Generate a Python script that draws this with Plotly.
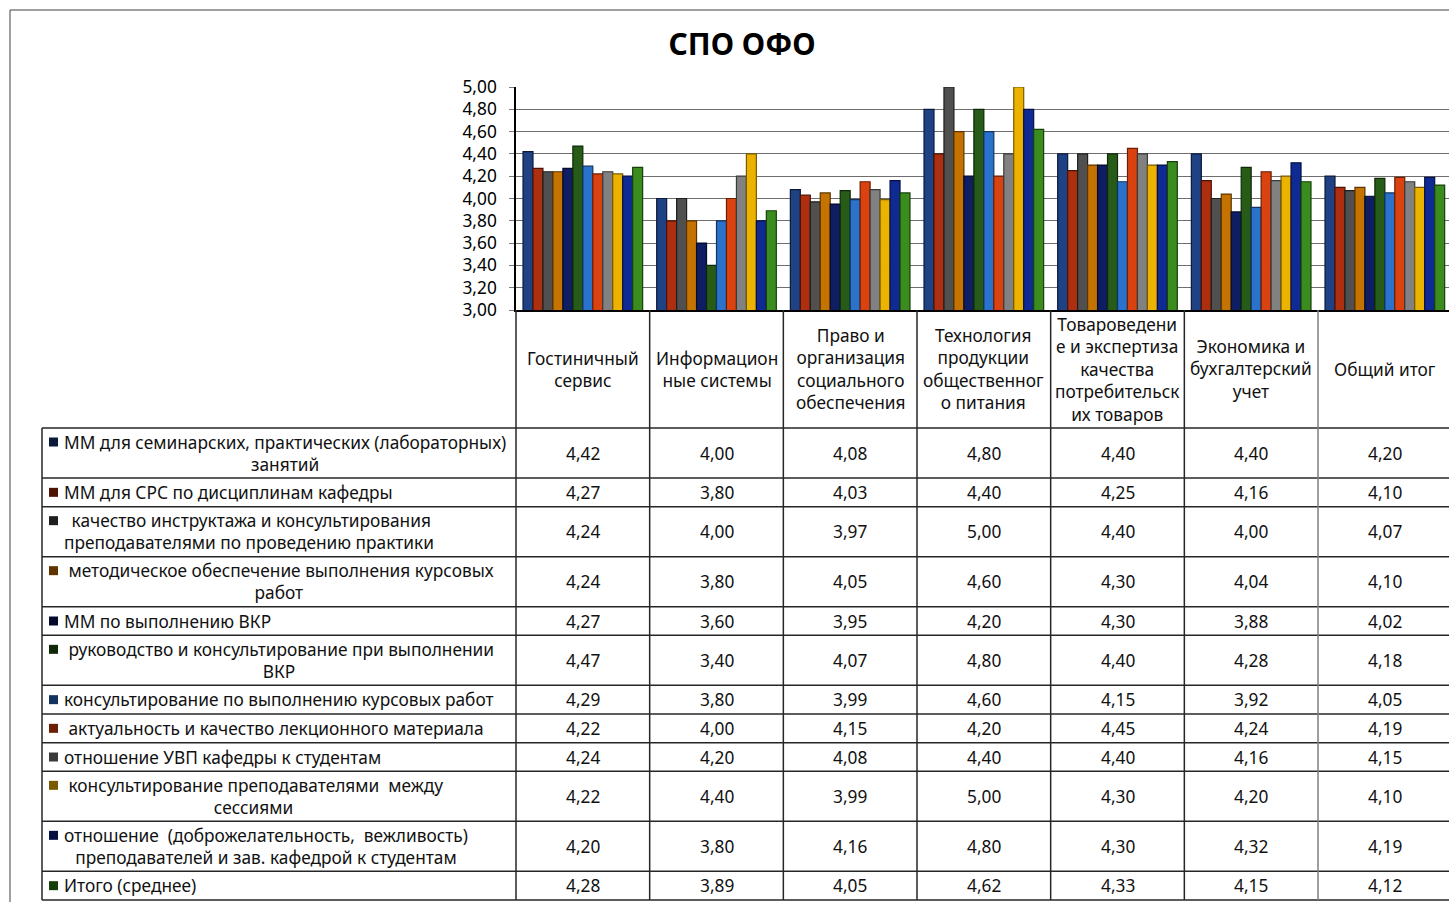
import plotly.graph_objects as go

W, H = 1449, 902

categories = ["Гостиничный<br>сервис", "Информацион<br>ные системы",
              "Право и<br>организация<br>социального<br>обеспечения",
              "Технология<br>продукции<br>общественног<br>о питания",
              "Товароведени<br>е и экспертиза<br>качества<br>потребительск<br>их товаров",
              "Экономика и<br>бухгалтерский<br>учет", "Общий итог"]

series_names = [
    "ММ для семинарских, практических (лабораторных)<br>занятий",
    "ММ для СРС по дисциплинам кафедры",
    " качество инструктажа и консультирования<br>преподавателями по проведению практики",
    " методическое обеспечение выполнения курсовых<br>работ",
    "ММ по выполнению ВКР",
    " руководство и консультирование при выполнении<br>ВКР",
    "консультирование по выполнению курсовых работ",
    " актуальность и качество лекционного материала",
    "отношение УВП кафедры к студентам",
    " консультирование преподавателями  между<br>сессиями",
    "отношение  (доброжелательность,  вежливость)<br>преподавателей и зав. кафедрой к студентам",
    "Итого (среднее)",
]

s1 = [4.42, 4.00, 4.08, 4.80, 4.40, 4.40, 4.20]
s2 = [4.27, 3.80, 4.03, 4.40, 4.25, 4.16, 4.10]
s3 = [4.24, 4.00, 3.97, 5.00, 4.40, 4.00, 4.07]
s4 = [4.24, 3.80, 4.05, 4.60, 4.30, 4.04, 4.10]
s5 = [4.27, 3.60, 3.95, 4.20, 4.30, 3.88, 4.02]
s6 = [4.47, 3.40, 4.07, 4.80, 4.40, 4.28, 4.18]
s7 = [4.29, 3.80, 3.99, 4.60, 4.15, 3.92, 4.05]
s8 = [4.22, 4.00, 4.15, 4.20, 4.45, 4.24, 4.19]
s9 = [4.24, 4.20, 4.08, 4.40, 4.40, 4.16, 4.15]
s10 = [4.22, 4.40, 3.99, 5.00, 4.30, 4.20, 4.10]
s11 = [4.20, 3.80, 4.16, 4.80, 4.30, 4.32, 4.19]
s12 = [4.28, 3.89, 4.05, 4.62, 4.33, 4.15, 4.12]
values = [s1, s2, s3, s4, s5, s6, s7, s8, s9, s10, s11, s12]

colors = ["#1E4284", "#AC2F10", "#505050", "#C47200", "#0F1E62", "#275C18",
          "#2A72CC", "#DA420F", "#818181", "#ECB200", "#102A94", "#3A8C1F"]
edge_colors = ["#0B1A3A", "#4E1205", "#1E1E1E", "#5E3500", "#050A2A", "#0E2808",
               "#123260", "#6A1E05", "#3A3A3A", "#7A5A00", "#060F44", "#16400A"]

FONT = "Noto Sans"
FS = 17.3
TXT = "#111111"

def py(p):
    return 1 - p / H

def px(p):
    return p / W

x_left = 516
fig = go.Figure()
xs = list(range(len(categories)))
for name, vals, c, ec in zip(series_names, values, colors, edge_colors):
    fig.add_trace(go.Bar(x=xs, y=vals, name=name.replace("<br>", " "),
                         marker=dict(color=c, line=dict(color=ec, width=1.2)),
                         showlegend=False))

shapes = []
annotations = []

# frame
shapes.append(dict(type="rect", xref="paper", yref="paper", x0=px(10), x1=1.01,
                   y0=-0.01, y1=py(10), line=dict(color="#404040", width=1)))

# table geometry
row_lines = [1 if "<br>" not in n else 2 for n in series_names]
h1 = (900 - 428 - 50 * sum(1 for r in row_lines if r == 2)) / sum(1 for r in row_lines if r == 1)
bounds = [428]
for r in row_lines:
    bounds.append(bounds[-1] + (50 if r == 2 else h1))

line_style = dict(color="#262626", width=1.5)
for b in bounds:
    shapes.append(dict(type="line", xref="paper", yref="paper", x0=px(42), x1=1,
                       y0=py(b), y1=py(b), line=line_style))
shapes.append(dict(type="line", xref="paper", yref="paper", x0=px(42), x1=px(42),
                   y0=py(428), y1=py(900), line=line_style))
shapes.append(dict(type="line", xref="paper", yref="paper", x0=px(x_left), x1=px(x_left),
                   y0=py(310), y1=py(900), line=line_style))
for i in range(1, len(categories)):
    shapes.append(dict(type="line", xref="x", yref="paper", x0=i - 0.5, x1=i - 0.5,
                       y0=py(310), y1=py(900),
                       line=dict(color="#262626" if i < 6 else "#7f7f7f", width=1.5)))

# header category labels
for i, c in enumerate(categories):
    annotations.append(dict(x=i, y=py(369), xref="x", yref="paper", text=c,
                            showarrow=False, align="center", xanchor="center",
                            yanchor="middle",
                            font=dict(family=FONT, size=FS, color=TXT)))

# rows
for k, (name, vals) in enumerate(zip(series_names, values)):
    top, bot = bounds[k], bounds[k + 1]
    cy = (top + bot) / 2
    key_y = cy - 11 if row_lines[k] == 2 else cy
    shapes.append(dict(type="rect", xref="paper", yref="paper",
                       x0=px(49), x1=px(58), y0=py(key_y + 4.5), y1=py(key_y - 4.5),
                       fillcolor=edge_colors[k], line=dict(width=0)))
    annotations.append(dict(x=px(62), y=py(cy), xref="paper", yref="paper",
                            text=name.replace(" ", "\u00a0"),
                            showarrow=False, align="center", xanchor="left",
                            yanchor="middle",
                            font=dict(family=FONT, size=FS, color=TXT)))
    for i, v in enumerate(vals):
        annotations.append(dict(x=i, y=py(cy), xref="x", yref="paper",
                                text=f"{v:.2f}".replace(".", ","), showarrow=False,
                                xanchor="center", yanchor="middle",
                                font=dict(family=FONT, size=FS, color=TXT)))

fig.update_layout(
    width=W, height=H, autosize=False,
    margin=dict(l=0, r=0, t=0, b=0, pad=0, autoexpand=False),
    paper_bgcolor="white", plot_bgcolor="white",
    separators=", ",
    barmode="group", bargap=0.105, bargroupgap=0,
    title=dict(text="<b>СПО ОФО</b>", x=px(742), xanchor="center", y=py(44),
               yanchor="middle", font=dict(family=FONT, size=30, color="black")),
    xaxis=dict(domain=[px(x_left), 1.0], range=[-0.5, 6.48], showticklabels=False,
               showgrid=False, zeroline=False, showline=True, linecolor="black",
               linewidth=1.5, ticks="", automargin=False),
    yaxis=dict(domain=[py(310), py(87)], range=[3.0, 5.0], dtick=0.2, tick0=3.0,
               tickformat=".2f", showgrid=True, gridcolor="#6e6e6e", gridwidth=1.3,
               showline=True, linecolor="black", linewidth=1.5, ticks="outside",
               ticklen=5, tickcolor="#7a7a7a", ticklabelstandoff=9, automargin=False,
               tickfont=dict(family=FONT, size=FS, color="black"), zeroline=False),
    shapes=shapes, annotations=annotations,
)

fig.write_html("out.html", config={"displayModeBar": False},
               post_script="document.body.style.margin='0';document.body.style.overflow='hidden';")
